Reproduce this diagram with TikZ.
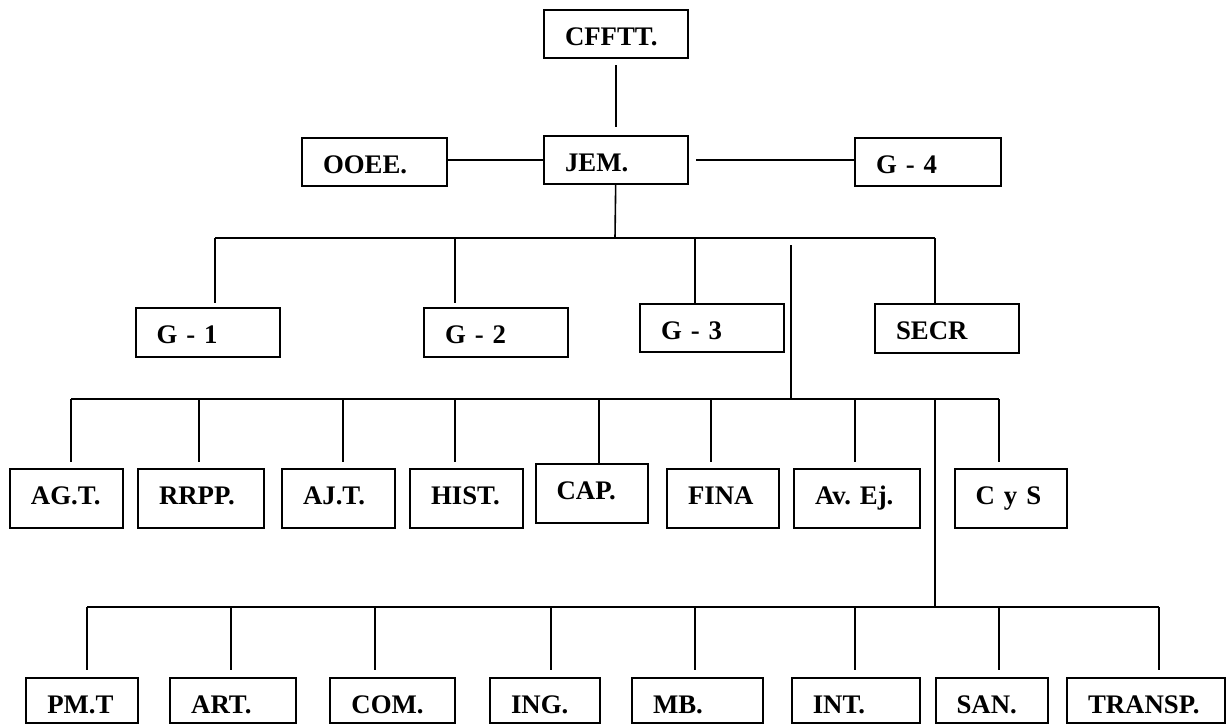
\documentclass[tikz,border=0pt]{standalone}
\usepackage{fontspec}
\setmainfont{Liberation Serif}[WordSpace=0.85]
\frenchspacing
\tikzset{
  orgbox/.style={draw, line width=1pt, anchor=north west, inner xsep=10.5pt, inner ysep=0pt,
    align=left, text height=17.8pt, font=\fontsize{13.4}{15}\selectfont\bfseries},
  chiefbox/.style={orgbox, text depth=6.2pt, text width=#1},
  staffbox/.style={orgbox, text depth=11.55pt, text width=#1},
  servbox/.style={orgbox, text depth=4.85pt, text width=#1},
  link/.style={line width=0.8pt},
  bus/.style={line width=1.2pt}
}
\begin{document}
\begin{tikzpicture}[x=0.5pt,y=-0.5pt]
  \useasboundingbox (0,0) rectangle (1226,723);

  % mando
  \node[chiefbox=51pt] (cfftt) at (543,9) {CFFTT.};
  \node[chiefbox=51pt] (jem) at (543,135) {JEM.};
  \node[chiefbox=51.5pt] (ooee) at (301,137) {OOEE.};
  \node[chiefbox=52pt] (g4) at (854,137) {G - 4};
  \draw[link, shorten <=3pt, shorten >=4pt] (cfftt) -- (jem);
  \draw[link] (jem.west) -- (jem.west -| ooee.east);
  \draw[link, shorten <=3.5pt] (jem.east) -- (jem.east -| g4.west);

  % estado mayor
  \node[chiefbox=51.25pt, text depth=6.7pt] (g1) at (134.5,306.7) {G - 1};
  \node[chiefbox=51pt, text depth=6.7pt] (g2) at (423,306.7) {G - 2};
  \node[chiefbox=51pt] (g3) at (639,302.7) {G - 3};
  \node[chiefbox=51pt, text depth=6.7pt] (secr) at (874,302.7) {SECR};
  \coordinate (b1) at (615,238);
  \coordinate (b1l) at (215,238);
  \coordinate (b1r) at (935,238);
  \draw[link] (jem) -- (b1);
  \draw[bus] (b1l) -- (b1r);
  \foreach \x/\n/\s in {215/g1/2pt, 455/g2/2pt, 695/g3/0pt, 935/secr/0pt}
    \draw[link, shorten >=\s] (\x,238) -- (\x,238 |- \n.north);

  % asesores
  \node[staffbox=35.5pt] (agt) at (9,468.3) {AG.T.};
  \node[staffbox=42pt] (rrpp) at (137,468.3) {RRPP.};
  \node[staffbox=35.5pt] (ajt) at (281,468.3) {AJ.T.};
  \node[staffbox=35.5pt] (hist) at (409,468.3) {HIST.};
  \node[staffbox=35.25pt, text depth=11.7pt] (cap) at (534.6,462.7) {CAP.};
  \node[staffbox=35pt] (fina) at (666,468.3) {FINA};
  \node[staffbox=42pt] (avej) at (793,468.3) {Av. Ej.};
  \node[staffbox=35.3pt] (cys) at (953.7,468.3) {C y S};
  \coordinate (b1m) at (791,238);
  \coordinate (b2m) at (791,399);
  \coordinate (b2l) at (71,399);
  \coordinate (b2r) at (999,399);
  \draw[link, shorten <=3.5pt] (b1m) -- (b2m);
  \draw[link] (b2l) -- (b2r);
  \foreach \x/\n/\s in {71/agt/3pt, 199/rrpp/3pt, 343/ajt/3pt, 455/hist/3pt,
      599/cap/0pt, 711/fina/3pt, 855/avej/3pt, 999/cys/3pt}
    \draw[link, shorten >=\s] (\x,399) -- (\x,399 |- \n.north);

  % armas y servicios
  \node[servbox=35pt] (pmt) at (25.3,676.7) {PM.T};
  \node[servbox=42pt] (art) at (169.2,676.7) {ART.};
  \node[servbox=41.5pt] (com) at (329.4,676.7) {COM.};
  \node[servbox=33.75pt] (ing) at (489,676.7) {ING.};
  \node[servbox=44.5pt] (mb) at (631,676.7) {MB.};
  \node[servbox=43.3pt] (int) at (790.8,676.7) {INT.};
  \node[servbox=35pt] (san) at (934.5,676.7) {SAN.};
  \node[servbox=58pt] (transp) at (1066,676.7) {TRANSP.};
  \coordinate (b2s) at (935,399);
  \coordinate (b3m) at (935,607);
  \coordinate (b3l) at (87,607);
  \coordinate (b3r) at (1159,607);
  \draw[link] (b2s) -- (b3m);
  \draw[link] (b3l) -- (b3r);
  \foreach \x/\n in {87/pmt, 231/art, 375/com, 551/ing, 695/mb, 855/int, 999/san, 1159/transp}
    \draw[link, shorten >=3.3pt] (\x,607) -- (\x,607 |- \n.north);
\end{tikzpicture}
\end{document}
